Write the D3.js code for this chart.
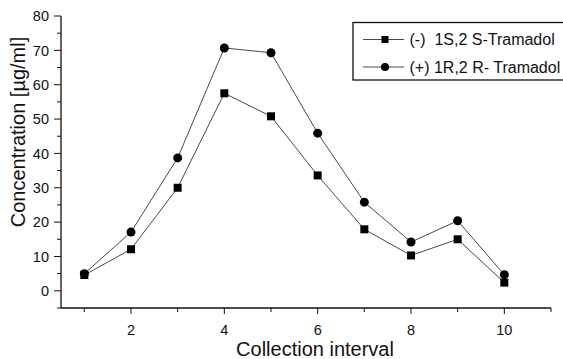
<!DOCTYPE html>
<html><head><meta charset="utf-8">
<script src="https://cdn.jsdelivr.net/npm/d3@7"></script>
<style>body{margin:0;background:#fff}svg{display:block;font-family:"Liberation Sans",Arial,sans-serif}</style>
</head><body><svg id="c" width="563" height="359"></svg>
<script>
const intervals = [1,2,3,4,5,6,7,8,9,10];
const sTramadol = [4.6,12.1,30.0,57.5,50.8,33.6,17.9,10.3,15.0,2.4];
const rTramadol = [5.0,17.1,38.7,70.7,69.3,45.9,25.8,14.2,20.4,4.7];
const seriesNames = ["(-)\u00a0 1S,2 S-Tramadol","(+) 1R,2 R- Tramadol"];
const xTicks = [2,4,6,8,10];
const yTicks = [0,10,20,30,40,50,60,70,80];
const xTitle = "Collection interval";
const yTitle = "Concentration [µg/ml]";

const svg = d3.select("#c");
const x = d3.scaleLinear().domain([0.5,11]).range([61,551]);
const y = d3.scaleLinear().domain([-5,80]).range([308,16]);
const ink = "#111";

// x axis
const xa = svg.append("g").attr("transform","translate(0,308)");
xa.append("line").attr("x1",61).attr("x2",551).attr("stroke",ink).attr("stroke-width",1.3);
xa.selectAll(".mn").data(d3.range(1,12)).join("line")
  .attr("x1",d=>x(d)).attr("x2",d=>x(d)).attr("y1",0).attr("y2",d=>xTicks.includes(d)?6:4)
  .attr("stroke",ink).attr("stroke-width",1);
xa.selectAll("text").data(xTicks).join("text")
  .attr("x",d=>x(d)).attr("y",26.5).attr("text-anchor","middle")
  .attr("font-size",14.5).attr("fill",ink).text(d=>d);
svg.append("text").attr("x",315).attr("y",356).attr("text-anchor","middle")
  .attr("font-size",20).attr("fill",ink).text(xTitle);

// y axis
const ya = svg.append("g").attr("transform","translate(61,0)");
ya.append("line").attr("y1",16).attr("y2",308).attr("stroke",ink).attr("stroke-width",1.3);
ya.selectAll(".mn").data(d3.range(-5,81,5)).join("line")
  .attr("y1",d=>y(d)).attr("y2",d=>y(d)).attr("x1",d=>yTicks.includes(d)?-7:-4).attr("x2",0)
  .attr("stroke",ink).attr("stroke-width",1);
ya.selectAll("text").data(yTicks).join("text")
  .attr("x",-12).attr("y",d=>y(d)).attr("dy","0.36em").attr("text-anchor","end")
  .attr("font-size",14.5).attr("fill",ink).text(d=>d);
svg.append("text").attr("transform","translate(25,132) rotate(-90)").attr("text-anchor","middle")
  .attr("font-size",20).attr("fill",ink).text(yTitle);

// lines
const line = d3.line().x((d,i)=>x(intervals[i])).y(d=>y(d));
[sTramadol, rTramadol].forEach(s=>{
  svg.append("path").attr("d",line(s)).attr("fill","none").attr("stroke","#333").attr("stroke-width",0.9);
});
svg.selectAll(".sq").data(sTramadol).join("rect")
  .attr("x",(d,i)=>x(intervals[i])-4).attr("y",d=>y(d)-4).attr("width",8).attr("height",8).attr("fill","#000");
svg.selectAll(".ci").data(rTramadol).join("circle")
  .attr("cx",(d,i)=>x(intervals[i])).attr("cy",d=>y(d)).attr("r",4.5).attr("fill","#000");

// legend
const lg = svg.append("g");
lg.append("rect").attr("x",353).attr("y",22.5).attr("width",220).attr("height",57.5)
  .attr("fill","#fff").attr("stroke",ink).attr("stroke-width",1.3);
const rows = [39.5,67];
rows.forEach((ry,i)=>{
  lg.append("line").attr("x1",363).attr("x2",404).attr("y1",ry).attr("y2",ry).attr("stroke","#333").attr("stroke-width",0.9);
  if(i===0) lg.append("rect").attr("x",381.5).attr("y",ry-3.5).attr("width",7).attr("height",7).attr("fill","#000");
  else lg.append("circle").attr("cx",385).attr("cy",ry).attr("r",4).attr("fill","#000");
  lg.append("text").attr("x",409.5).attr("y",ry).attr("dy","0.36em").attr("font-size",16).attr("fill",ink).text(seriesNames[i]);
});
</script></body></html>
